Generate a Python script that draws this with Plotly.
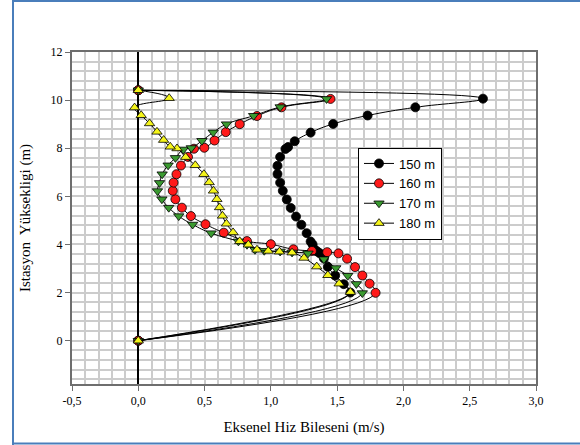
import plotly.graph_objects as go

# ---- data ----
names = ["150 m", "160 m", "170 m", "180 m"]

x150 = [0, 1.60, 1.55, 1.485, 1.43, 1.40, 1.37, 1.35, 1.33, 1.315,
        1.30, 1.27, 1.23, 1.19, 1.15, 1.12, 1.09, 1.07, 1.05, 1.05,
        1.07, 1.11, 1.13, 1.18, 1.30, 1.47, 1.73, 2.09, 2.60, 0]
y150 = [0, 2.00, 2.35, 2.71, 3.07, 3.42, 3.63, 3.71, 3.79, 4.00,
        4.12, 4.47, 4.82, 5.16, 5.52, 5.87, 6.23, 6.57, 6.93, 7.27,
        7.64, 7.97, 8.05, 8.29, 8.65, 9.01, 9.36, 9.70, 10.06, 10.41]

x160 = [0, 1.79, 1.745, 1.69, 1.635, 1.575, 1.51, 1.425, 1.31, 1.17,
        1.0, 0.82, 0.645, 0.507, 0.397, 0.329, 0.28, 0.26, 0.266, 0.288,
        0.322, 0.375, 0.42, 0.498, 0.575, 0.66, 0.765, 0.895, 1.08, 1.45, 0]
y160 = [0, 1.99, 2.37, 2.71, 3.06, 3.41, 3.63, 3.68, 3.73, 3.80,
        4.01, 4.14, 4.49, 4.84, 5.18, 5.53, 5.88, 6.23, 6.57, 6.92,
        7.28, 7.64, 7.98, 8.02, 8.32, 8.67, 9.0, 9.34, 9.70, 10.05, 10.41]

x170 = [0, 1.69, 1.645, 1.58, 1.49, 1.40, 1.28, 1.16, 1.07, 0.95,
        0.88, 0.82, 0.755, 0.55, 0.41, 0.305, 0.23, 0.178, 0.145, 0.16,
        0.18, 0.225, 0.28, 0.34, 0.40, 0.48, 0.565, 0.665, 0.87, 1.07, 1.42, 0]
y170 = [0, 1.98, 2.36, 2.70, 3.02, 3.39, 3.63, 3.67, 3.71, 3.74,
        3.78, 3.99, 4.13, 4.47, 4.83, 5.18, 5.53, 5.88, 6.22, 6.56,
        6.92, 7.29, 7.60, 7.95, 8.01, 8.31, 8.66, 9.0, 9.35, 9.71, 10.05, 10.41]

x180 = [0, 1.60, 1.515, 1.43, 1.346, 1.25, 1.16, 1.065, 0.98, 0.895,
        0.83, 0.765, 0.715, 0.665, 0.635, 0.613, 0.593, 0.567, 0.535, 0.495,
        0.43, 0.357, 0.292, 0.241, 0.191, 0.141, 0.085, 0.022, -0.028, 0.233, 0]
y180 = [0, 2.02, 2.37, 2.72, 3.08, 3.44, 3.66, 3.70, 3.73, 3.78,
        3.99, 4.13, 4.50, 4.86, 5.19, 5.54, 5.88, 6.23, 6.58, 6.92,
        7.29, 7.63, 7.99, 8.06, 8.34, 8.68, 9.03, 9.37, 9.69, 10.08, 10.41]

x_tickvals = [-0.5, 0.0, 0.5, 1.0, 1.5, 2.0, 2.5, 3.0]
x_ticktext = ["-0,5", "0,0", "0,5", "1,0", "1,5", "2,0", "2,5", "3,0"]
y_tickvals = [0, 2, 4, 6, 8, 10, 12]
y_ticktext = ["0", "2", "4", "6", "8", "10", "12"]

# ---- styles ----
xs = [x150, x160, x170, x180]
ys = [y150, y160, y170, y180]
colors = ["#000000", "#ff1a1a", "#3a9a30", "#f5f51a"]
symbols = ["circle", "circle", "triangle-down", "triangle-up"]
sizes = [9, 9, 9, 9]

fig = go.Figure()
for name, x, y, c, s, sz in zip(names, xs, ys, colors, symbols, sizes):
    fig.add_trace(go.Scatter(
        x=x, y=y, name=name, mode="lines+markers",
        line=dict(color="black", width=1, shape="spline", smoothing=1.3),
        marker=dict(color=c, symbol=s, size=sz, line=dict(color="black", width=0.8)),
    ))

L, R, T, B = 72, 44, 52, 61
W, H = 580, 445
pw, ph = W - L - R, H - T - B

def px2x(px):
    return (px - L) / pw

def py2y(py):
    return (H - B - py) / ph

serif = "Liberation Serif"
grid_c = "#cccccc"
axis_c = "#6e6e6e"

fig.update_layout(
    width=W, height=H,
    margin=dict(l=L, r=R, t=T, b=B, autoexpand=False),
    paper_bgcolor="white", plot_bgcolor="white",
    showlegend=True,
    legend=dict(
        x=px2x(358), y=py2y(193.5), xanchor="left", yanchor="middle",
        bgcolor="white", bordercolor="black", borderwidth=1,
        font=dict(family="Liberation Sans", size=13, color="black"),
        itemwidth=30, tracegroupgap=0,
    ),
    xaxis=dict(
        range=[-0.5, 3.0], tickmode="array", tickvals=x_tickvals, ticktext=x_ticktext,
        showgrid=True, gridcolor=grid_c, gridwidth=1.5,
        minor=dict(tickmode="linear", tick0=0, dtick=0.1, showgrid=True,
                   gridcolor=grid_c, gridwidth=1.5, ticks=""),
        zeroline=True, zerolinecolor="black", zerolinewidth=2,
        showline=True, linecolor=axis_c, linewidth=2, mirror=True,
        ticks="outside", ticklen=5, tickcolor=axis_c, tickwidth=1,
        tickfont=dict(family=serif, size=12, color="black"),
        title=dict(text="Eksenel Hiz Bileseni (m/s)", standoff=14,
                   font=dict(family=serif, size=15, color="black")),
    ),
    yaxis=dict(
        range=[-1.8, 12], tickmode="array", tickvals=y_tickvals, ticktext=y_ticktext,
        showgrid=True, gridcolor=grid_c, gridwidth=1.5,
        minor=dict(tickmode="linear", tick0=0, dtick=0.4, showgrid=True,
                   gridcolor=grid_c, gridwidth=1.5, ticks=""),
        zeroline=False,
        showline=True, linecolor=axis_c, linewidth=2, mirror=True,
        ticks="outside", ticklen=5, tickcolor=axis_c, tickwidth=1,
        tickfont=dict(family=serif, size=12, color="black"),
        title=dict(text="Istasyon  Yüksekligi (m)", standoff=16,
                   font=dict(family=serif, size=15, color="black")),
    ),
)

# blue frame around the figure (left, top, bottom)
blue = "#4a7ebb"
fig.add_shape(type="line", xref="paper", yref="paper",
              x0=px2x(13), x1=px2x(13), y0=py2y(0), y1=py2y(445),
              line=dict(color=blue, width=2))
fig.add_shape(type="line", xref="paper", yref="paper",
              x0=px2x(12), x1=px2x(580), y0=py2y(1), y1=py2y(1),
              line=dict(color=blue, width=2))
fig.add_shape(type="line", xref="paper", yref="paper",
              x0=px2x(12), x1=px2x(580), y0=py2y(443.5), y1=py2y(443.5),
              line=dict(color=blue, width=2))

fig.write_html("out.html")
